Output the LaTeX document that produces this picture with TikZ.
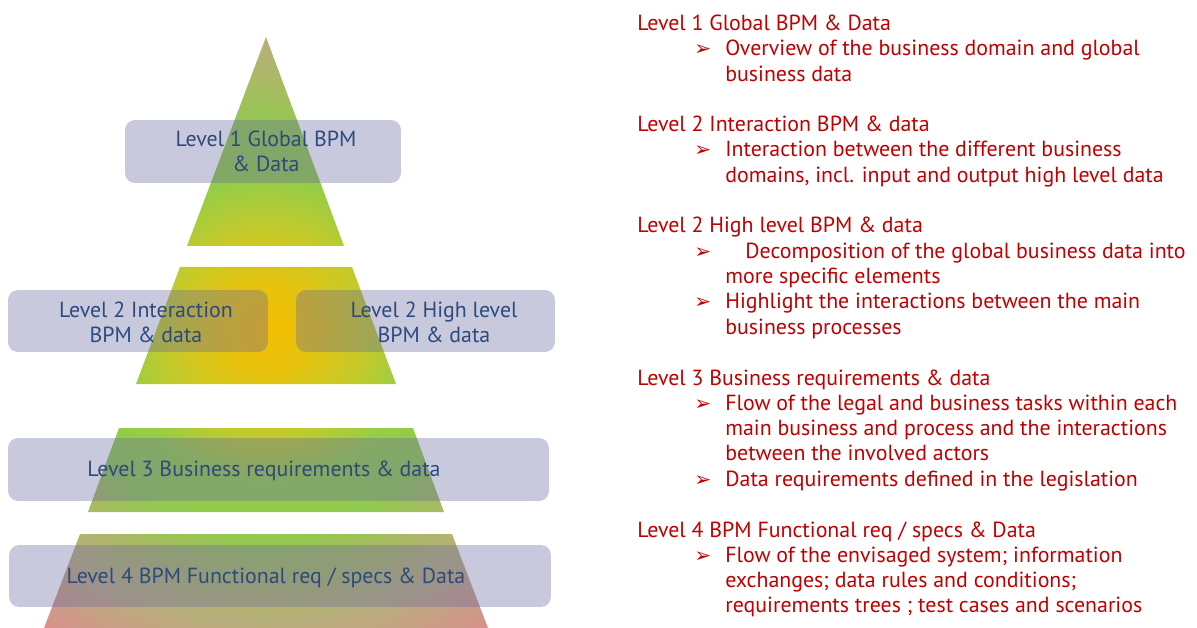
\documentclass[tikz,border=0pt]{standalone}
\usepackage{fontspec}
\setmainfont{PT Sans}
\newfontfamily\symfont{DejaVu Sans}
\usepackage{xcolor}
\definecolor{LevelRed}{HTML}{C00000}
\definecolor{LevelBlue}{HTML}{2C4A7C}
\definecolor{BoxLilac}{RGB}{100,100,160}
\definecolor{PyrOrange}{RGB}{246,190,0}
\definecolor{PyrAmber}{RGB}{230,195,15}
\definecolor{PyrYellow}{RGB}{200,202,40}
\definecolor{PyrGreen}{RGB}{150,205,70}
\definecolor{PyrGreenB}{RGB}{145,203,78}
\definecolor{PyrOlive}{RGB}{170,185,100}
\definecolor{PyrTan}{RGB}{185,175,125}
\definecolor{PyrPink}{RGB}{215,145,140}

% glow radius 25bp = circle radius
\pgfdeclareradialshading{pyramidglow}{\pgfpoint{0bp}{0bp}}{%
  color(0bp)=(PyrOrange); color(3bp)=(PyrAmber); color(6.3bp)=(PyrYellow);
  color(9.9bp)=(PyrGreen); color(13.2bp)=(PyrGreenB); color(16.4bp)=(PyrOlive);
  color(19.4bp)=(PyrTan); color(24.3bp)=(PyrPink); color(50bp)=(PyrPink)}

\newcommand{\lvlfont}{\fontsize{12.45}{14.4}\selectfont}

\tikzset{
  lvlbox/.style={rectangle, rounded corners=0.2cm, fill=BoxLilac,
                 fill opacity=0.35, draw=none},
  lvltext/.style={text=LevelBlue, align=center, font=\lvlfont, inner sep=0pt},
  head/.style={anchor=base west, inner sep=0pt, text=LevelRed, font=\lvlfont},
  % multi-line items sit on the baseline of their last line
  item/.style={anchor=base west, inner sep=0pt, text=LevelRed, align=left,
               font=\lvlfont},
  tick/.style={anchor=base west, inner sep=0pt, text=LevelRed,
               font=\symfont\fontsize{11.5}{12}\selectfont}
}

\begin{document}
\begin{tikzpicture}[x=0.02cm, y=-0.02cm]
    \useasboundingbox (0,0) rectangle (1197,628);

    % pyramid in four slices, one glow over all of them
    \begin{scope}
        \clip (266,37) -- (344,246) -- (187,246) -- cycle
              (180,267) -- (352,267) -- (396,384) -- (136,384) -- cycle
              (119,428) -- (413,428) -- (444,512) -- (88,512) -- cycle
              (80,534) -- (452,534) -- (488,628) -- (44,628) -- cycle;
        \shade[shading=pyramidglow] (266,330) circle (7.6cm);
    \end{scope}

    % level boxes
    \node[lvlbox, minimum width=5.52cm, minimum height=1.26cm] (box1) at (263,151.5) {};
    \node[lvlbox, minimum width=5.2cm, minimum height=1.24cm] (box2a) at (138,321) {};
    \node[lvlbox, minimum width=5.18cm, minimum height=1.24cm] (box2b) at (425.5,321) {};
    \node[lvlbox, minimum width=10.82cm, minimum height=1.26cm] (box3) at (278.5,469.5) {};
    \node[lvlbox, minimum width=10.84cm, minimum height=1.24cm] (box4) at (280,576) {};

    \node[lvltext] (lbl1) at (266,151) {Level 1 Global BPM\\\& Data};
    \node[lvltext] (lbl2a) at (146,322) {Level 2 Interaction\\BPM \& data};
    \node[lvltext] (lbl2b) at (434,322) {Level 2 High level\\BPM \& data};
    \node[lvltext] (lbl3) at (264,471) {Level 3 Business requirements \& data};
    \node[lvltext] (lbl4) at (266,578) {Level 4 BPM Functional req / specs \& Data};

    % descriptions
    \node[head] (h1) at (637,31) {Level 1 Global BPM \& Data};
    \node[tick] (t1) at (694,56) {➢};
    \node[item] (i1) at (725,81.3) {Overview of the business domain and global\\business data};

    \node[head] (h2) at (637,132) {Level 2 Interaction BPM \& data};
    \node[tick] (t2) at (694,157) {➢};
    \node[item] (i2) at (725,182.3) {Interaction between the different business\\domains, incl. input and output high level data};

    \node[head] (h3) at (637,233) {Level 2 High level BPM \& data};
    \node[tick] (t3) at (694,258.5) {➢};
    \node[item] (i3) at (725,283.8) {\hspace*{0.4cm}Decomposition of the global business data into\\more specific elements};
    \node[tick] (t4) at (694,309) {➢};
    \node[item] (i4) at (725,334.3) {Highlight the interactions between the main\\business processes};

    \node[head] (h4) at (637,385) {Level 3 Business requirements \& data};
    \node[tick] (t5) at (694,410) {➢};
    \node[item] (i5) at (725,460.6) {Flow of the legal and business tasks within each\\main business and process and the interactions\\between the involved actors};
    \node[tick] (t6) at (694,486) {➢};
    \node[item] (i6) at (725,486) {Data requirements defined in the legislation};

    \node[head] (h5) at (637,537) {Level 4 BPM Functional req / specs \& Data};
    \node[tick] (t7) at (694,562) {➢};
    \node[item] (i7) at (725,612.6) {Flow of the envisaged system; information\\exchanges; data rules and conditions;\\requirements trees ; test cases and scenarios};
\end{tikzpicture}
\end{document}
